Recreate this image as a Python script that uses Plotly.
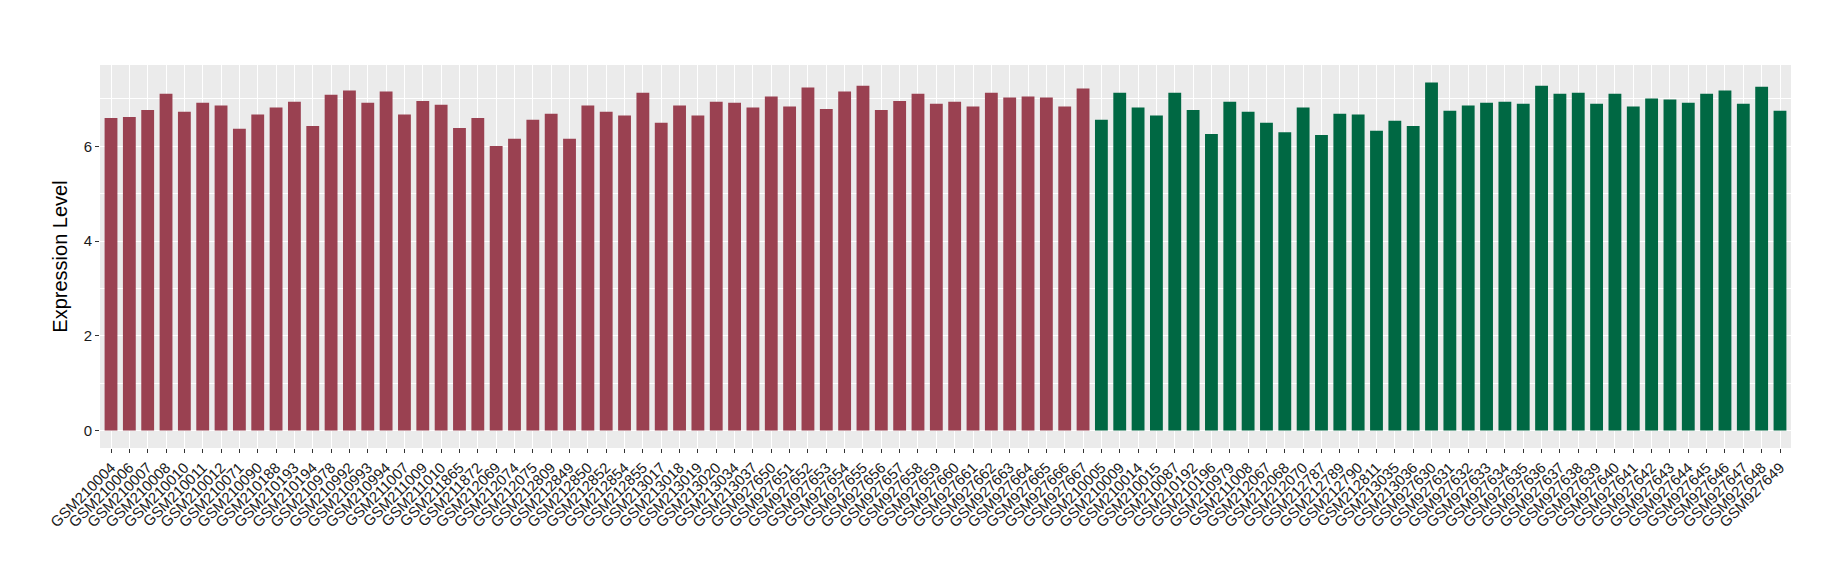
import plotly.graph_objects as go

red_samples = [
    "GSM210004", "GSM210006", "GSM210007", "GSM210008", "GSM210010", "GSM210011",
    "GSM210012", "GSM210071", "GSM210090", "GSM210188", "GSM210193", "GSM210194",
    "GSM210978", "GSM210992", "GSM210993", "GSM210994", "GSM211007", "GSM211009",
    "GSM211010", "GSM211865", "GSM211872", "GSM212069", "GSM212074", "GSM212075",
    "GSM212809", "GSM212849", "GSM212850", "GSM212852", "GSM212854", "GSM212855",
    "GSM213017", "GSM213018", "GSM213019", "GSM213020", "GSM213034", "GSM213037",
    "GSM927650", "GSM927651", "GSM927652", "GSM927653", "GSM927654", "GSM927655",
    "GSM927656", "GSM927657", "GSM927658", "GSM927659", "GSM927660", "GSM927661",
    "GSM927662", "GSM927663", "GSM927664", "GSM927665", "GSM927666", "GSM927667",
]
red_values = [
    6.60, 6.62, 6.77, 7.11, 6.73, 6.92, 6.86, 6.37, 6.67, 6.82, 6.94, 6.43,
    7.09, 7.18, 6.92, 7.16, 6.67, 6.96, 6.88, 6.39, 6.60, 6.01, 6.16, 6.56,
    6.69, 6.16, 6.86, 6.73, 6.65, 7.13, 6.50, 6.86, 6.65, 6.94, 6.92, 6.82,
    7.05, 6.84, 7.24, 6.79, 7.16, 7.28, 6.77, 6.96, 7.11, 6.90, 6.94, 6.84,
    7.13, 7.03, 7.05, 7.03, 6.84, 7.22,
]

green_samples = [
    "GSM210005", "GSM210009", "GSM210014", "GSM210015", "GSM210087", "GSM210192",
    "GSM210196", "GSM210979", "GSM211008", "GSM212067", "GSM212068", "GSM212070",
    "GSM212787", "GSM212789", "GSM212790", "GSM212811", "GSM213035", "GSM213036",
    "GSM927630", "GSM927631", "GSM927632", "GSM927633", "GSM927634", "GSM927635",
    "GSM927636", "GSM927637", "GSM927638", "GSM927639", "GSM927640", "GSM927641",
    "GSM927642", "GSM927643", "GSM927644", "GSM927645", "GSM927646", "GSM927647",
    "GSM927648", "GSM927649",
]
green_values = [
    6.56, 7.13, 6.82, 6.65, 7.13, 6.77, 6.26, 6.94, 6.73, 6.50, 6.30, 6.82,
    6.24, 6.69, 6.67, 6.33, 6.54, 6.43, 7.35, 6.75, 6.86, 6.92, 6.94, 6.90,
    7.28, 7.11, 7.13, 6.90, 7.11, 6.84, 7.01, 6.99, 6.92, 7.11, 7.18, 6.90,
    7.26, 6.75,
]

y_ticks = [0, 2, 4, 6]
y_title = "Expression Level"

RED = "#9A4151"
GREEN = "#006843"
FONT = "Liberation Sans, Arial, sans-serif"

fig = go.Figure()
fig.add_trace(go.Bar(x=red_samples, y=red_values, marker=dict(color=RED, line=dict(width=0)),
                     width=0.7, showlegend=False))
fig.add_trace(go.Bar(x=green_samples, y=green_values, marker=dict(color=GREEN, line=dict(width=0)),
                     width=0.7, showlegend=False))

all_samples = red_samples + green_samples
ymax = max(red_values + green_values)

fig.update_layout(
    width=1840, height=580,
    barmode="overlay",
    paper_bgcolor="white",
    plot_bgcolor="#EBEBEB",
    margin=dict(l=92, r=57, t=57, b=140, autoexpand=False),
    font=dict(family=FONT, color="#1A1A1A"),
    xaxis=dict(
        type="category",
        categoryorder="array",
        categoryarray=all_samples,
        range=[-0.6, len(all_samples) - 0.4],
        tickmode="array",
        tickvals=all_samples,
        ticktext=all_samples,
        tickangle=-45,
        tickfont=dict(size=15, color="#1A1A1A", family=FONT),
        showgrid=True, gridcolor="white", gridwidth=1.2,
        ticks="outside", ticklen=4, tickcolor="#333333", tickwidth=1,
        showline=False, zeroline=False,
    ),
    yaxis=dict(
        range=[-0.05 * ymax, ymax * 1.05],
        tickvals=y_ticks,
        tickfont=dict(size=15, color="#1A1A1A", family=FONT),
        showgrid=True, gridcolor="white", gridwidth=1.2,
        minor=dict(dtick=1, tick0=0, showgrid=True, gridcolor="white", gridwidth=0.5),
        ticks="outside", ticklen=4, tickcolor="#333333", tickwidth=1,
        zeroline=False, showline=False,
        title=dict(text=y_title, font=dict(size=20, color="black", family=FONT), standoff=10),
    ),
)

fig.write_html("out.html")
